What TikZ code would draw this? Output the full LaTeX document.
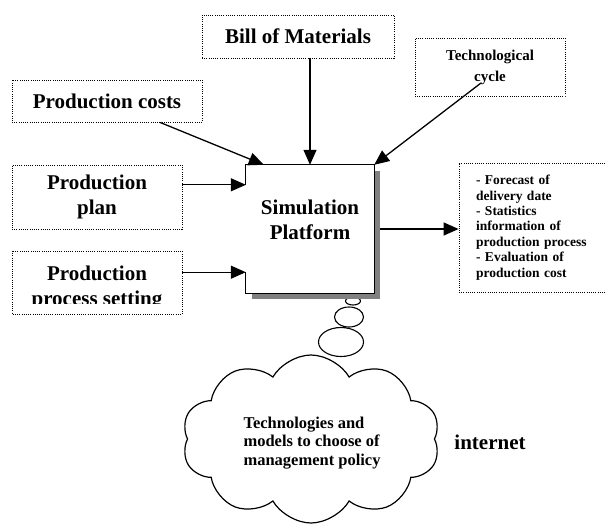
\documentclass[tikz,border=0pt]{standalone}
\usepackage{fontspec}
\setmainfont{Liberation Serif}
\usetikzlibrary{arrows.meta,shapes.symbols,calc,positioning}

\begin{document}
\begin{tikzpicture}[
  x=1pt,y=-1pt,
  dotline/.style={line width=0.8pt, dash pattern=on 0.8pt off 1.4pt},
  dotbox/.style={draw, dotline, inner sep=0pt,
    align=center, font=\fontsize{21}{25}\selectfont\bfseries},
  arr/.style={-{Triangle[length=15pt,width=13pt]}, line width=1.3pt},
  bubble/.style={draw, line width=1.1pt}]

  \useasboundingbox (0,0) rectangle (605,525);
  \clip (0,0) rectangle (605,525);

  \node[dotbox, minimum width=192pt, minimum height=43pt] (bom) at (298,36.5) {Bill of Materials};
  \node[dotbox, minimum width=150pt, minimum height=58pt,
    font=\fontsize{15}{21}\selectfont\bfseries] (tech) at (490,67) {Technological\\cycle};
  \node[dotbox, minimum width=190pt, minimum height=42pt] (cost) at (107,101) {Production costs};
  \node[dotbox, minimum width=170pt, minimum height=64pt] (plan) at (97,197) {Production\\plan};
  \begin{scope}
    \clip (12,251) rectangle (182,303);
    \node[dotbox, draw=none, minimum width=170pt, minimum height=63pt] (setting) at (97,288) {Production\\process setting};
  \end{scope}
  \draw[dotline] (12,251) rectangle (182,314);
  \node[dotbox, minimum width=156pt, minimum height=129pt, text width=122pt, align=left,
    font=\fontsize{13.5}{15.4}\selectfont\bfseries] (out) at (537,227.5)
    {- Forecast of\\delivery date\\- Statistics\\information of\\production process\\- Evaluation of\\production cost};

  % thought bubbles
  \draw[bubble] (353,301) ellipse [x radius=7.5, y radius=4];
  \draw[bubble] (349,317) ellipse [x radius=14.5, y radius=10];
  \draw[bubble] (341,342) ellipse [x radius=22.5, y radius=14.5];

  \fill[gray] (252,171) rectangle (380,299);
  \node[fill=white, minimum width=128pt, minimum height=128pt, inner sep=0pt] (sim) at (310,229) {};
  \node[font=\fontsize{21}{25}\selectfont\bfseries, align=center] (simtext) at (310,220) {Simulation\\Platform};
  \coordinate (inA) at ($(sim.north west)+(0,20)$);
  \coordinate (inB) at ($(sim.south west)+(0,-21)$);
  \draw[line width=1.3pt] (inA) -- (sim.north west) -- (sim.north east) -- (sim.south east) -- (sim.south west) -- (inB);

  \draw[arr] ($(cost.south)+(53,0)$) -- ($(sim.north west)+(18,0)$);
  \draw[arr] (sim.north |- bom.south) -- (sim.north);
  \draw[arr] ($(tech.center)+(-9,16)$) -- (sim.north east);
  \draw[arr] (plan.east |- inA) -- (inA);
  \draw[arr] (plan.east |- inB) -- (inB);
  \draw[arr] ($(sim.east)+(6,0)$) -- (out.west |- sim.east);

  \node[cloud, draw, line width=1.2pt, cloud puffs=10, cloud puff arc=120, aspect=1.5,
    minimum width=258pt, minimum height=168pt, inner sep=0pt] (policy) at (311,439) {};
  \node[align=left, font=\fontsize{16.5}{18.5}\selectfont\bfseries, anchor=west] (policytext) at (240,443)
    {Technologies and\\models to choose of\\management policy};
  \node[font=\fontsize{21}{24}\selectfont\bfseries] (net) at (490,442) {internet};
\end{tikzpicture}
\end{document}
